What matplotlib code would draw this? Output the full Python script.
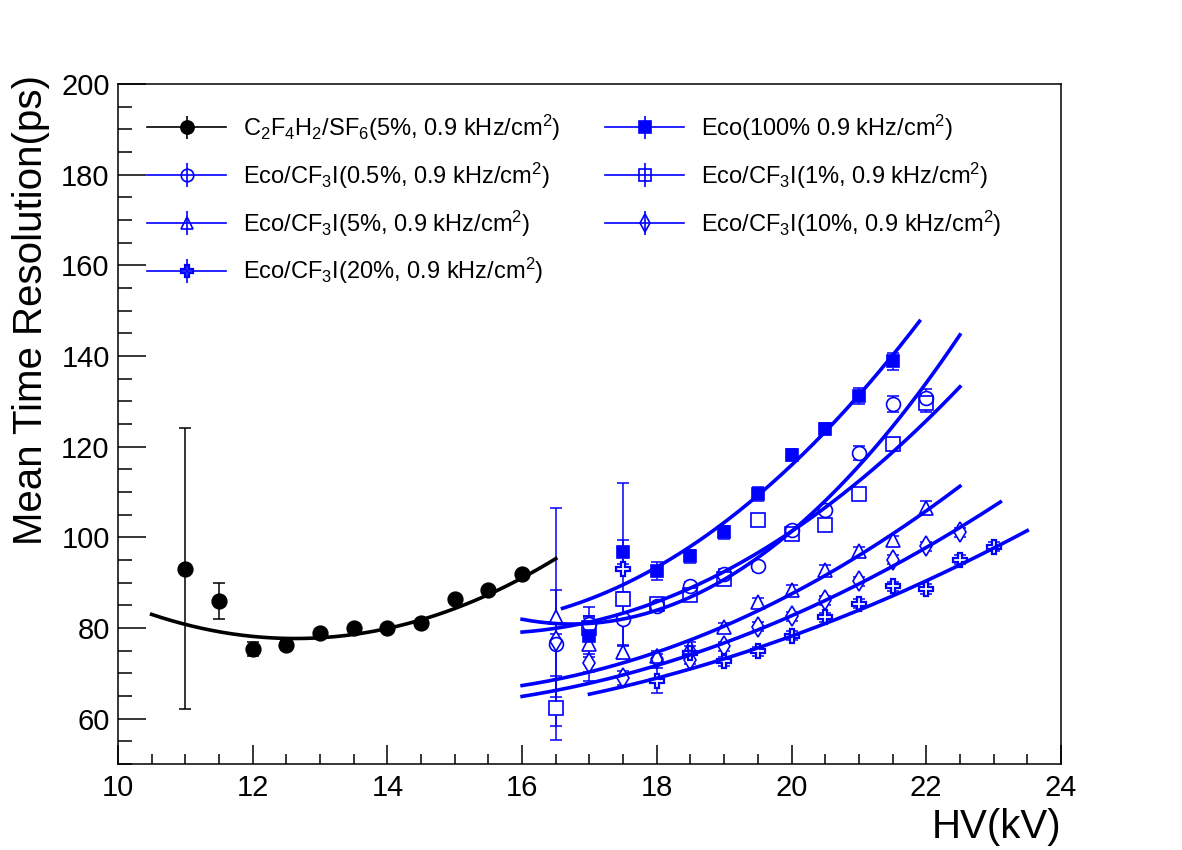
import numpy as np
import matplotlib
matplotlib.use('Agg')
import matplotlib.pyplot as plt
from matplotlib.ticker import MultipleLocator

plt.rcParams['font.family'] = ['Liberation Sans', 'DejaVu Sans']
plt.rcParams['mathtext.default'] = 'regular'

blue = '#0000ff'

# C2F4H2/SF6 (5%) reference mixture
hv_ref = [11, 11.5, 12, 12.5, 13, 13.5, 14, 14.5, 15, 15.5, 16]
res_ref = [93.1, 85.9, 75.4, 76.3, 78.9, 80.0, 80.1, 81.1, 86.4, 88.4, 91.8]
err_ref = [31, 4, 1.5, 0.8, 0.5, 0.5, 0.5, 0.5, 0.5, 0.5, 0.5]

# Eco 100%
hv_eco = [17, 17.5, 18, 18.5, 19, 19.5, 20, 20.5, 21, 21.5]
res_eco = [78.2, 96.7, 92.5, 95.8, 101.1, 109.5, 118.2, 123.9, 131.1, 138.8]
err_eco = [4.5, 2.6, 2, 1.5, 1.5, 1.5, 1.3, 1.3, 1.8, 1.9]

# Eco/CF3I 0.5%
hv_05 = [16.5, 17, 17.5, 18, 18.5, 19, 19.5, 20, 20.5, 21, 21.5, 22]
res_05 = [76.5, 80.8, 82.0, 84.8, 89.2, 92.0, 93.6, 101.6, 106.1, 118.6, 129.4, 130.7]
err_05 = [11.8, 1.5, 6, 1, 1, 1, 1, 1, 1, 1.5, 1.8, 2]

# Eco/CF3I 1%
hv_1 = [16.5, 17, 17.5, 18, 18.5, 19, 19.5, 20, 20.5, 21, 21.5, 22]
res_1 = [62.4, 80.0, 86.3, 85.3, 87.2, 90.8, 103.9, 100.7, 102.8, 109.6, 120.5, 129.6]
err_1 = [7, 2.7, 1.5, 1, 1, 1, 1, 1, 1, 1, 1.5, 2]

# Eco/CF3I 5%
hv_5 = [16.5, 17, 17.5, 18, 18.5, 19, 19.5, 20, 20.5, 21, 21.5, 22]
res_5 = [82.4, 76.5, 74.7, 73.9, 75.8, 80.2, 85.7, 88.4, 92.9, 96.9, 99.3, 106.5]
err_5 = [24, 8.2, 1.5, 1, 1, 1, 1, 1, 1, 1, 1, 1.5]

# Eco/CF3I 10%
hv_10 = [16.5, 17, 17.5, 18, 18.5, 19, 19.5, 20, 20.5, 21, 21.5, 22, 22.5]
res_10 = [77.2, 72.3, 69.0, 73.2, 73.0, 76.0, 80.3, 82.6, 86.1, 90.3, 95.1, 98.0, 101.1]
err_10 = [1.5, 2, 1.5, 1, 1, 1, 1, 1, 1, 1, 1, 1, 1]

# Eco/CF3I 20%
hv_20 = [17.5, 18, 18.5, 19, 19.5, 20, 20.5, 21, 21.5, 22, 22.5, 23]
res_20 = [93.0, 68.4, 74.5, 72.7, 74.9, 78.3, 82.4, 85.3, 89.2, 88.6, 95.1, 97.9]
err_20 = [19, 2.8, 1.5, 1, 1, 1, 1, 1, 1, 1, 1, 1]

# pol2 fit parameters (x^2, x, 1) and fit ranges
fit_ref = [1.175, -29.675, 265.04]
fit_eco = [1.4, -41.95, 394.92]
fit_05 = [1.923, -64.384, 619.78]
fit_1 = [1.109, -34.374, 345.18]
fit_5 = [0.685, -19.608, 205.67]
fit_10 = [0.514, -14.057, 158.23]
fit_20 = [0.367, -9.312, 117.64]

labels = [r'C$_2$F$_4$H$_2$/SF$_6$(5%, 0.9 kHz/cm$^2$)',
          r'Eco/CF$_3$I(0.5%, 0.9 kHz/cm$^2$)',
          r'Eco/CF$_3$I(5%, 0.9 kHz/cm$^2$)',
          r'Eco/CF$_3$I(20%, 0.9 kHz/cm$^2$)',
          r'Eco(100% 0.9 kHz/cm$^2$)',
          r'Eco/CF$_3$I(1%, 0.9 kHz/cm$^2$)',
          r'Eco/CF$_3$I(10%, 0.9 kHz/cm$^2$)']

series = [
    (hv_ref, res_ref, err_ref, fit_ref, (10.5, 16.5), 'k', 'o', True, 10.5),
    (hv_05, res_05, err_05, fit_05, (16.0, 22.5), blue, 'o', False, 10),
    (hv_5, res_5, err_5, fit_5, (16.0, 22.5), blue, '^', False, 10),
    (hv_20, res_20, err_20, fit_20, (17.0, 23.5), blue, 'P', False, 10),
    (hv_eco, res_eco, err_eco, fit_eco, (16.6, 21.9), blue, 's', True, 9),
    (hv_1, res_1, err_1, fit_1, (16.0, 22.5), blue, 's', False, 9.5),
    (hv_10, res_10, err_10, fit_10, (16.0, 23.1), blue, 'd', False, 10),
]

fig = plt.figure(figsize=(11.82, 8.5), dpi=100)
ax = fig.add_axes([0.0998, 0.1012, 0.7978, 0.8])

handles = []
for x, y, e, coef, (lo, hi), col, mk, filled, ms in series:
    mew = 1.6 if mk == 'P' else 1.2
    # error bars, then a white patch so bars do not show through hollow markers
    ax.errorbar(x, y, yerr=e, fmt='none', ecolor=col, elinewidth=1.1,
                capsize=4, capthick=1.1, zorder=1)
    ax.plot(x, y, ls='none', marker=mk, ms=ms, mfc='white', mec='none', zorder=1.5)
    ax.plot(x, y, ls='none', marker=mk, ms=ms, mfc=col if filled else 'none',
            mec=col, mew=mew, zorder=2)
    xf = np.linspace(lo, hi, 200)
    ax.plot(xf, np.polyval(coef, xf), color=col, lw=2.6, zorder=3)
    # legend proxy
    h = ax.errorbar([np.nan], [np.nan], yerr=[1], fmt='-', color=col, lw=1.2,
                    marker=mk, ms=ms * 0.9, mfc=col if filled else 'none',
                    mec=col, mew=mew, capsize=0, elinewidth=1.2)
    handles.append(h)

ax.set_xlim(10, 24)
ax.set_ylim(50, 200)
ax.xaxis.set_major_locator(MultipleLocator(2))
ax.xaxis.set_minor_locator(MultipleLocator(0.5))
ax.yaxis.set_major_locator(MultipleLocator(20))
ax.yaxis.set_minor_locator(MultipleLocator(5))

ax.tick_params(which='both', direction='in', top=False, right=False,
               width=1.1, labelsize=21)
ax.tick_params(axis='x', which='major', length=14, pad=7)
ax.tick_params(axis='x', which='minor', length=7)
ax.tick_params(axis='y', which='major', length=20, pad=6)
ax.tick_params(axis='y', which='minor', length=10)
for s in ax.spines.values():
    s.set_linewidth(1.1)

ax.set_xlabel('HV(kV)', fontsize=29, ha='right')
ax.xaxis.set_label_coords(1.0, -0.065)
ax.set_ylabel('Mean Time Resolution(ps)', fontsize=29, ha='right')
ax.yaxis.set_label_coords(-0.072, 1.013)

ax.legend(handles, labels, ncol=2, loc='upper left',
          bbox_to_anchor=(0.031, 0.958), frameon=False, fontsize=17,
          handlelength=3.35, handletextpad=0.7, columnspacing=1.9,
          labelspacing=0.75, borderpad=0, borderaxespad=0, numpoints=1)

fig.savefig('out.png', dpi=100)
